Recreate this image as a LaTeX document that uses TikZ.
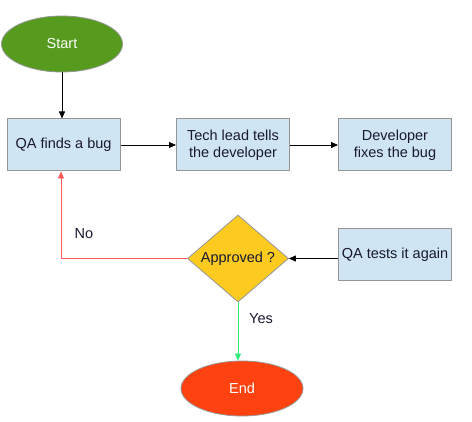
\documentclass[tikz,border=0pt]{standalone}
\usepackage{fontspec}
\setmainfont{Liberation Sans}
\usetikzlibrary{shapes.geometric,arrows.meta}
\definecolor{startgreen}{RGB}{86,155,30}
\definecolor{endred}{RGB}{255,66,16}
\definecolor{decyellow}{RGB}{253,203,32}
\definecolor{boxblue}{RGB}{207,229,243}
\definecolor{edgegray}{RGB}{150,150,150}
\definecolor{noline}{RGB}{255,90,90}
\definecolor{yesline}{RGB}{50,235,120}
\definecolor{labelink}{RGB}{25,25,50}
\tikzset{
  stepbox/.style={draw=edgegray,fill=boxblue,line width=1pt,minimum width=113,minimum height=52,align=center,inner sep=0pt,text=labelink},
  terminal/.style={ellipse,draw=edgegray,line width=0.8pt,minimum width=121,minimum height=56,text=white,inner sep=0pt},
  flow/.style={-{Triangle[length=7pt,width=6pt]},line width=0.8pt}
}
\begin{document}
\begin{tikzpicture}[x=1pt,y=1pt,yscale=-1,xscale=1,font=\fontsize{14.5}{17}\selectfont]
            \useasboundingbox (0,0) rectangle (472,422);

            % Start / End
            \node (start) at (62,44) [terminal,fill=startgreen] {Start};
            \node (finish) at (242,388.5) [terminal,fill=endred,minimum width=122,minimum height=55] {End};

            % Boxes
            \node (qafind) at (63.5,145) [stepbox] {QA finds a bug};
            \node (techlead) at (233,145) [stepbox] {Tech lead tells\\the developer};
            \node (devfix) at (395,145) [stepbox] {Developer\\fixes the bug};
            \node (qatest) at (395,255) [stepbox] {QA tests it again};

            % Decision
            \node (approved) at (238,258.5) [diamond,draw=edgegray,fill=decyellow,line width=0.8pt,minimum width=101,minimum height=87,inner sep=0pt,label={[text=labelink]center:Approved ?}] {};

            % Connectors
            \draw [flow] (start) -- (start |- qafind.north);
            \draw [flow] (qafind) -- (techlead);
            \draw [flow] (techlead) -- (devfix);
            \draw [flow] (qatest.west |- approved) -- (approved.east);
            \draw [flow,color=noline] (approved.west) -| ([xshift=-2.5]qafind.south);
            \draw [flow,color=yesline] (approved.south) -- (approved.south |- finish.north);

            % Text Node
            \node (nolabel) at (84,234) [text=labelink] {No};
            % Text Node
            \node (yeslabel) at (261,319) [text=labelink] {Yes};

\end{tikzpicture}
\end{document}
